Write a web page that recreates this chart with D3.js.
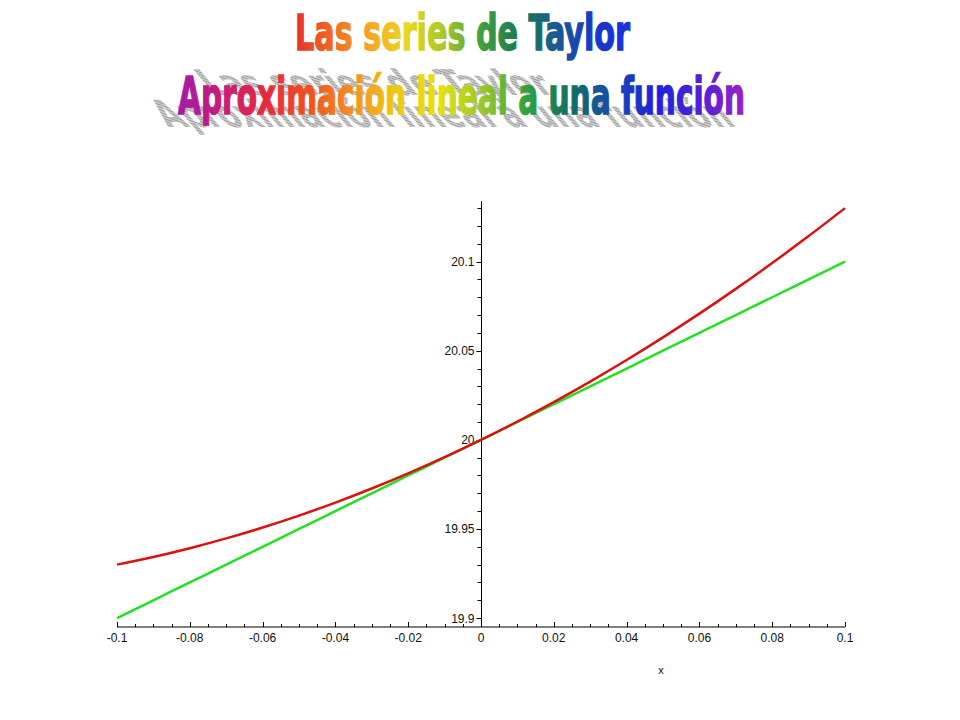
<!DOCTYPE html>
<html>
<head>
<meta charset="utf-8">
<script src="https://cdn.jsdelivr.net/npm/d3@7"></script>
<style>
html,body{margin:0;padding:0;background:#fff;}
svg{display:block;}
</style>
</head>
<body>
<svg id="chart" width="960" height="720"></svg>
<script>
// ---- data ----
const titleLine1 = "Las series de Taylor";
const titleLine2 = "Aproximación lineal a una función";
const xLabel = "x";
const xValues = [-0.1,-0.09,-0.08,-0.07,-0.06,-0.05,-0.04,-0.03,-0.02,-0.01,0,0.01,0.02,0.03,0.04,0.05,0.06,0.07,0.08,0.09,0.1];
const curveValues = [19.9300,19.9343,19.9392,19.9447,19.9508,19.9575,19.9648,19.9727,19.9812,19.9903,20.0000,20.0103,20.0212,20.0327,20.0448,20.0575,20.0708,20.0847,20.0992,20.1143,20.1300];
const linearValues = [19.900,19.910,19.920,19.930,19.940,19.950,19.960,19.970,19.980,19.990,20.000,20.010,20.020,20.030,20.040,20.050,20.060,20.070,20.080,20.090,20.100];
const xMajorTicks = [-0.1,-0.08,-0.06,-0.04,-0.02,0,0.02,0.04,0.06,0.08,0.1];
const xTickLabels = ["-0.1","-0.08","-0.06","-0.04","-0.02","0","0.02","0.04","0.06","0.08","0.1"];
const yMajorTicks = [19.9,19.95,20,20.05,20.1];
const yTickLabels = ["19.9","19.95","20","20.05","20.1"];
const grad1Colors = ["#e8302a","#f06a20","#f5a628","#e8d820","#a8c828","#40a040","#1a7a50","#1a5a90","#1838c8","#1a30e0"];
const grad2Colors = ["#a01ca8","#c81c78","#e8283c","#f05020","#f59020","#f0c810","#e8e010","#98c828","#30a040","#107060","#1848b0","#2020e0","#5020d8","#a020c0"];

const svg = d3.select("#chart");
const defs = svg.append("defs");

function makeGrad(id, colors, x1, x2){
  const g = defs.append("linearGradient").attr("id", id)
    .attr("gradientUnits","userSpaceOnUse").attr("x1",x1).attr("x2",x2).attr("y1",0).attr("y2",0);
  colors.forEach((c,i)=>g.append("stop").attr("offset", i/(colors.length-1)).attr("stop-color", c));
}
makeGrad("g1", grad1Colors, 295, 630);
makeGrad("g2", grad2Colors, 178, 745);

const pat = defs.append("pattern").attr("id","hatch").attr("patternUnits","userSpaceOnUse")
  .attr("width",4).attr("height",4).attr("patternTransform","rotate(35)");
pat.append("rect").attr("width",4).attr("height",4).attr("fill","#cdcdcd");
pat.append("rect").attr("width",4).attr("height",1.5).attr("fill","#9a9a9a");

const titleFont = "'Liberation Sans Narrow','DejaVu Sans Condensed','Liberation Sans',Arial,sans-serif";

// shadows
svg.append("text").attr("transform","translate(212,95) skewX(40) scale(1,0.68)")
  .attr("font-family",titleFont).attr("font-weight","bold").attr("font-size",52)
  .attr("textLength",345).attr("lengthAdjust","spacingAndGlyphs")
  .attr("fill","url(#hatch)").text(titleLine1);
svg.append("text").attr("transform","translate(168,127) skewX(40) scale(1,0.72)")
  .attr("font-family",titleFont).attr("font-weight","bold").attr("font-size",52)
  .attr("textLength",570).attr("lengthAdjust","spacingAndGlyphs")
  .attr("fill","url(#hatch)").text(titleLine2);

// titles
svg.append("text").attr("x",295).attr("y",50)
  .attr("font-family",titleFont).attr("font-weight","bold").attr("font-size",50)
  .attr("textLength",335).attr("lengthAdjust","spacingAndGlyphs")
  .attr("fill","url(#g1)").attr("stroke","url(#g1)").attr("stroke-width",1.4)
  .text(titleLine1);
svg.append("text").attr("x",178).attr("y",114)
  .attr("font-family",titleFont).attr("font-weight","bold").attr("font-size",52)
  .attr("textLength",567).attr("lengthAdjust","spacingAndGlyphs")
  .attr("fill","url(#g2)").attr("stroke","url(#g2)").attr("stroke-width",1.4)
  .text(titleLine2);

// scales
const x = d3.scaleLinear().domain([-0.1,0.1]).range([117,845]);
const y = d3.scaleLinear().domain([19.895,20.134]).range([627,201]);

const axisColor = "#000";
const labelFont = "'Liberation Sans',Arial,sans-serif";

// x axis
const xAxisY = y(19.895);
svg.append("line").attr("x1",x(-0.1)).attr("x2",x(0.1)).attr("y1",xAxisY).attr("y2",xAxisY)
  .attr("stroke",axisColor).attr("stroke-width",1);
const xMinor = d3.range(-100,101,5).map(v=>v/1000);
svg.selectAll(".xminor").data(xMinor).enter().append("line")
  .attr("x1",d=>Math.round(x(d))+0.5).attr("x2",d=>Math.round(x(d))+0.5)
  .attr("y1",xAxisY).attr("y2",xAxisY-3).attr("stroke",axisColor);
svg.selectAll(".xmajor").data(xMajorTicks).enter().append("line")
  .attr("x1",d=>Math.round(x(d))+0.5).attr("x2",d=>Math.round(x(d))+0.5)
  .attr("y1",xAxisY).attr("y2",xAxisY-5).attr("stroke",axisColor);
svg.selectAll(".xlab").data(xMajorTicks).enter().append("text")
  .attr("x",d=>x(d)).attr("y",xAxisY+15).attr("text-anchor","middle")
  .attr("font-family",labelFont).attr("font-size",12).attr("fill","#111")
  .text((d,i)=>xTickLabels[i]);
svg.append("text").attr("x",661).attr("y",674).attr("text-anchor","middle")
  .attr("font-family",labelFont).attr("font-size",11).attr("fill","#111").text(xLabel);

// y axis
const yAxisX = Math.round(x(0))+0.5;
svg.append("line").attr("x1",yAxisX).attr("x2",yAxisX).attr("y1",y(20.134)).attr("y2",xAxisY)
  .attr("stroke",axisColor);
const yMinor = d3.range(1990,2014,1).map(v=>v/100);
svg.selectAll(".yminor").data(yMinor).enter().append("line")
  .attr("x1",yAxisX).attr("x2",yAxisX-4)
  .attr("y1",d=>Math.round(y(d))+0.5).attr("y2",d=>Math.round(y(d))+0.5).attr("stroke",axisColor);
svg.selectAll(".ymajor").data(yMajorTicks).enter().append("line")
  .attr("x1",yAxisX).attr("x2",yAxisX-5)
  .attr("y1",d=>Math.round(y(d))+0.5).attr("y2",d=>Math.round(y(d))+0.5).attr("stroke",axisColor);
svg.selectAll(".ylab").data(yMajorTicks).enter().append("text")
  .attr("x",yAxisX-7).attr("y",d=>y(d)+4.5).attr("text-anchor","end")
  .attr("font-family",labelFont).attr("font-size",12).attr("fill","#111")
  .text((d,i)=>yTickLabels[i]);

// lines
const lineGen = d3.line().x(d=>x(d[0])).y(d=>y(d[1])).curve(d3.curveNatural);
svg.append("path").datum(xValues.map((v,i)=>[v,linearValues[i]]))
  .attr("d",lineGen).attr("fill","none").attr("stroke","#22e022").attr("stroke-width",2.5);
svg.append("path").datum(xValues.map((v,i)=>[v,curveValues[i]]))
  .attr("d",lineGen).attr("fill","none").attr("stroke","#dd1010").attr("stroke-width",2.5);
</script>
</body>
</html>
